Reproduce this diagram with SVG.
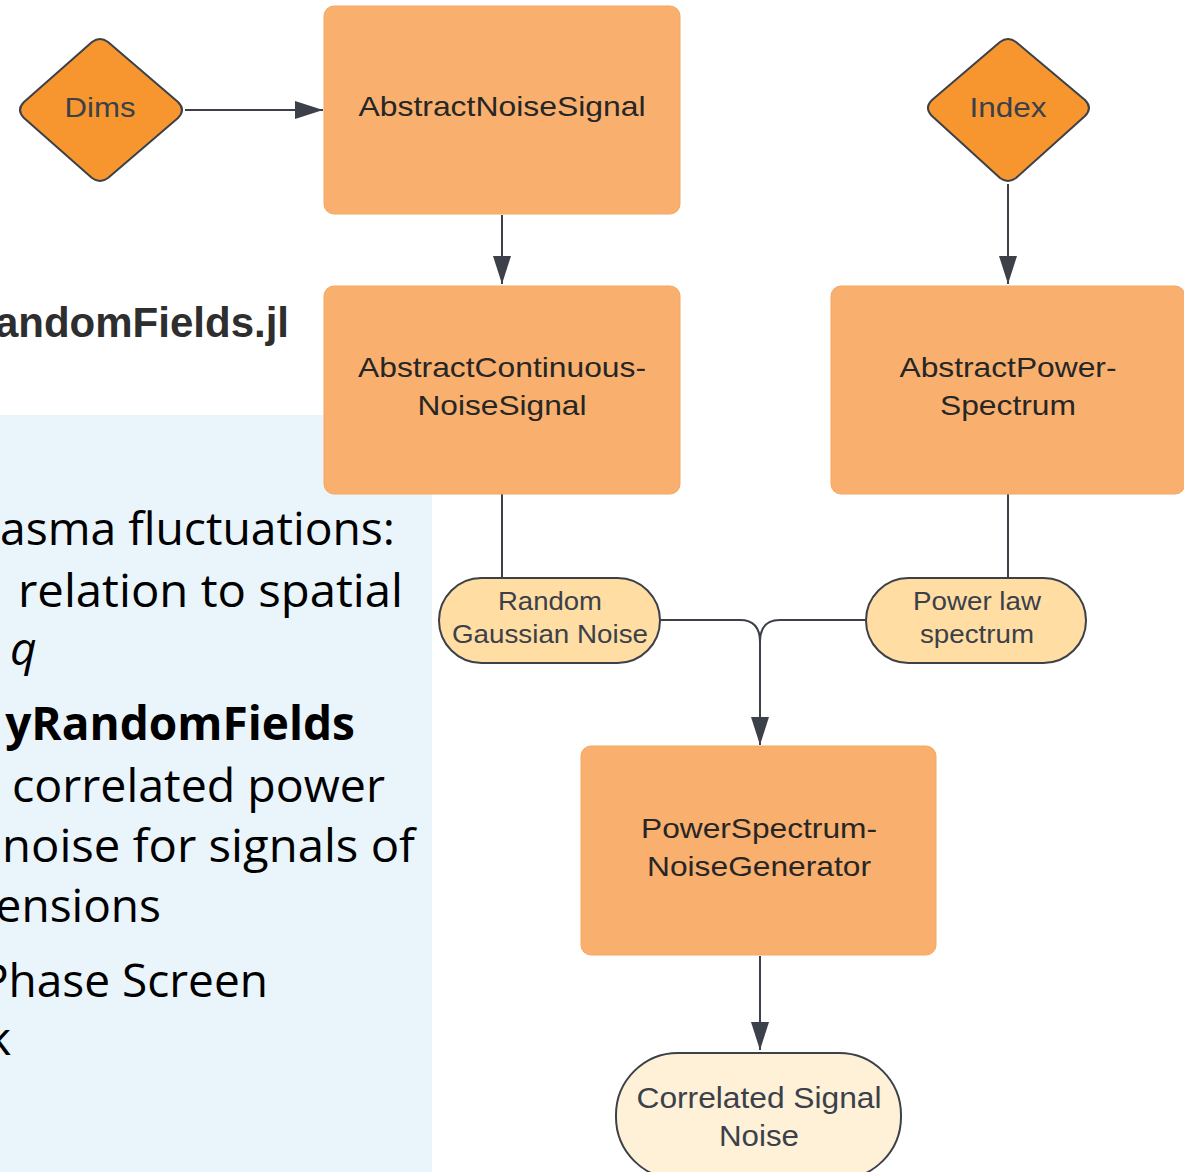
<svg xmlns="http://www.w3.org/2000/svg" width="1184" height="1172" viewBox="0 0 1184 1172">
<defs>
<style>
.box{fill:#F9B06E;stroke:#F6A75F;stroke-width:1}
.dia{fill:#F7962F;stroke:#3B4049;stroke-width:2;stroke-linejoin:round}
.pill{fill:#FFDDA3;stroke:#3B4049;stroke-width:2}
.pill2{fill:#FEF1D8;stroke:#3B4049;stroke-width:2}
.bt{font-family:"Liberation Sans",Arial,sans-serif;font-size:28px;fill:#262626;text-anchor:middle}
.dt{font-family:"Liberation Sans",Arial,sans-serif;font-size:28px;fill:#3B4049;text-anchor:middle}
.pt{font-family:"Liberation Sans",Arial,sans-serif;font-size:25px;fill:#3B4049;text-anchor:middle}
.ct{font-family:"Liberation Sans",Arial,sans-serif;font-size:29px;fill:#3B4049;text-anchor:middle}
.conn{fill:none;stroke:#3B4049;stroke-width:2}
.sl{font-family:"Open Sans","Noto Sans",sans-serif;font-size:46px;fill:#000;text-anchor:end}
</style>
<marker id="ah" viewBox="0 0 28 18" refX="28" refY="9" markerWidth="28" markerHeight="18" markerUnits="userSpaceOnUse" orient="auto">
<path d="M0,0 L28,9 L0,18 Z" fill="#3B4049"/>
</marker>
<marker id="av" viewBox="0 0 18 28" refX="9" refY="28" markerWidth="18" markerHeight="28" markerUnits="userSpaceOnUse" orient="0">
<path d="M0,0 L18,0 L9,28 Z" fill="#3B4049"/>
</marker>
</defs>
<rect width="1184" height="1172" fill="#FFFFFF"/>
<g id="slide-panel">
<rect x="0" y="415" width="432" height="757" fill="#EAF4FB"/>
<text x="289" y="337" font-family="Liberation Sans,Arial,sans-serif" font-size="42" font-weight="bold" fill="#2E2E2E" text-anchor="end">andomFields.jl</text>
<text class="sl" x="395" y="545" textLength="395" lengthAdjust="spacingAndGlyphs">asma fluctuations:</text>
<text class="sl" x="403" y="607" textLength="385" lengthAdjust="spacingAndGlyphs">relation to spatial</text>
<text x="10" y="665" font-family="Open Sans,Noto Sans,sans-serif" font-size="46" font-style="italic" fill="#000">q</text>
<text class="sl" x="355" y="740" font-weight="bold">yRandomFields</text>
<text class="sl" x="385" y="802" textLength="373" lengthAdjust="spacingAndGlyphs">correlated power</text>
<text class="sl" x="415" y="862" textLength="413" lengthAdjust="spacingAndGlyphs">noise for signals of</text>
<text class="sl" x="161" y="922">ensions</text>
<text class="sl" x="268" y="997">Phase Screen</text>
<text class="sl" x="11" y="1055">k</text>
</g>
<g id="connectors">
<line class="conn" x1="185" y1="110" x2="323" y2="110" marker-end="url(#ah)"/>
<line class="conn" x1="502" y1="215" x2="502" y2="284" marker-end="url(#av)"/>
<line class="conn" x1="1008" y1="184" x2="1008" y2="284" marker-end="url(#av)"/>
<line class="conn" x1="502" y1="494" x2="502" y2="578" stroke="#555"/>
<line class="conn" x1="1008" y1="494" x2="1008" y2="578" stroke="#555"/>
<path class="conn" d="M660,620 H740 Q760,620 760,642 V745" marker-end="url(#av)"/>
<path class="conn" d="M865,620 H780 Q760,620 760,642"/>
<line class="conn" x1="760" y1="956" x2="760" y2="1050" marker-end="url(#av)"/>
</g>
<g id="dims">
<path class="dia" d="M92,42 Q100,36 108,42 L178,102 Q186,110 178,118 L108,178 Q100,184 92,178 L24,118 Q16,110 24,102 Z"/>
<text class="dt" x="100" y="117" textLength="71" lengthAdjust="spacingAndGlyphs">Dims</text>
</g>
<g id="abstract-noise-signal">
<rect class="box" x="324" y="6" width="356" height="208" rx="10"/>
<text class="bt" x="502" y="116" textLength="287" lengthAdjust="spacingAndGlyphs">AbstractNoiseSignal</text>
</g>
<g id="index">
<path class="dia" d="M1000,42 Q1008,36 1016,42 L1085,100 Q1093,108 1085,116 L1016,178 Q1008,184 1000,178 L932,116 Q924,108 932,100 Z"/>
<text class="dt" x="1008" y="117" textLength="77" lengthAdjust="spacingAndGlyphs">Index</text>
</g>
<g id="abstract-continuous-noise-signal">
<rect class="box" x="324" y="286" width="356" height="208" rx="10"/>
<text class="bt" x="502" y="377" textLength="288" lengthAdjust="spacingAndGlyphs">AbstractContinuous-</text>
<text class="bt" x="502" y="415" textLength="169" lengthAdjust="spacingAndGlyphs">NoiseSignal</text>
</g>
<g id="abstract-power-spectrum">
<rect class="box" x="831" y="286" width="354" height="208" rx="10"/>
<text class="bt" x="1008" y="377" textLength="217" lengthAdjust="spacingAndGlyphs">AbstractPower-</text>
<text class="bt" x="1008" y="415" textLength="136" lengthAdjust="spacingAndGlyphs">Spectrum</text>
</g>
<g id="random-gaussian-noise">
<rect class="pill" x="439" y="578" width="221" height="85" rx="42.5"/>
<text class="pt" x="550" y="610" textLength="104" lengthAdjust="spacingAndGlyphs">Random</text>
<text class="pt" x="550" y="643" textLength="196" lengthAdjust="spacingAndGlyphs">Gaussian Noise</text>
</g>
<g id="power-law-spectrum">
<rect class="pill" x="866" y="578" width="220" height="85" rx="42.5"/>
<text class="pt" x="977" y="610" textLength="128" lengthAdjust="spacingAndGlyphs">Power law</text>
<text class="pt" x="977" y="643" textLength="114" lengthAdjust="spacingAndGlyphs">spectrum</text>
</g>
<g id="power-spectrum-noise-generator">
<rect class="box" x="581" y="746" width="355" height="209" rx="10"/>
<text class="bt" x="759" y="838" textLength="236" lengthAdjust="spacingAndGlyphs">PowerSpectrum-</text>
<text class="bt" x="759" y="876" textLength="224" lengthAdjust="spacingAndGlyphs">NoiseGenerator</text>
</g>
<g id="correlated-signal-noise">
<rect class="pill2" x="616" y="1053" width="285" height="126" rx="62"/>
<text class="ct" x="759" y="1108" textLength="245" lengthAdjust="spacingAndGlyphs">Correlated Signal</text>
<text class="ct" x="759" y="1146" textLength="80" lengthAdjust="spacingAndGlyphs">Noise</text>
</g>
</svg>
